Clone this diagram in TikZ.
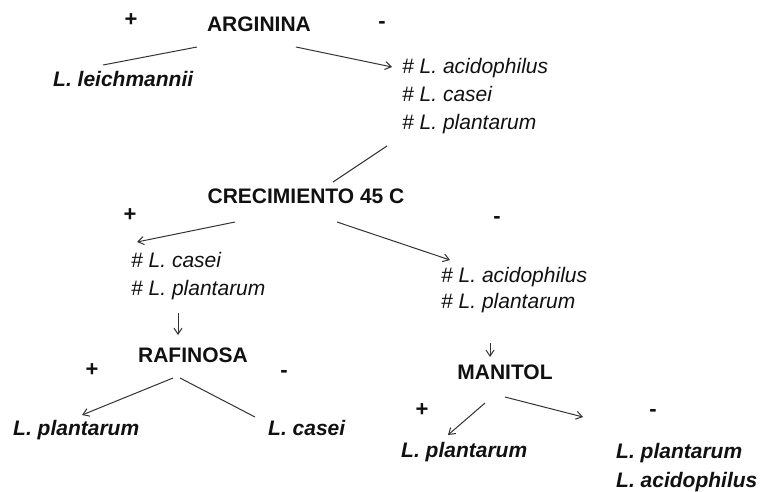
\documentclass[tikz,border=0pt]{standalone}
\usepackage{fontspec}
\setmainfont{Liberation Sans}
\usepackage{tikz}
\usetikzlibrary{arrows.meta, calc}
\definecolor{ink}{HTML}{111111}
\definecolor{wire}{HTML}{333333}

\begin{document}
\begin{tikzpicture}[
  x=1pt, y=-1pt,
  test/.style={font=\fontsize{21}{25}\selectfont\bfseries, text=ink, inner sep=1pt, anchor=base},
  sign/.style={font=\fontsize{22}{25}\selectfont\bfseries, text=ink, inner sep=1pt},
  sp/.style={font=\fontsize{21}{25}\selectfont\itshape, text=ink, inner sep=1pt, anchor=base west},
  res/.style={sp, font=\fontsize{21}{25}\selectfont\bfseries\itshape},
  lin/.style={draw=wire, line width=1pt},
  arr/.style={lin, -{Straight Barb[length=6pt, width=8pt]}}
]
\useasboundingbox (0,0) rectangle (760,491);
% first test
\node[sign] (plusA) at (131,20) {+};
\node[test] (arg) at (259,31.5) {ARGININA};
\node[sign] (minusA) at (382,25) {-};
\node[res] (leich) at (52,86) {L. leichmannii};
\node[sp] (a1) at (401,73) {\# L. acidophilus};
\node[sp] (a2) at (401,101) {\# L. casei};
\node[sp] (a3) at (401,129) {\# L. plantarum};
% second test
\node[test] (cre) at (306,203) {CRECIMIENTO 45 C};
\node[sign] (plusB) at (130,215) {+};
\node[sign] (minusB) at (497,220) {-};
\node[sp] (b1) at (130,267) {\# L. casei};
\node[sp] (b2) at (130,295) {\# L. plantarum};
\node[sp] (c1) at (440,282) {\# L. acidophilus};
\node[sp] (c2) at (440,308) {\# L. plantarum};
% third tests
\node[test] (raf) at (193,362) {RAFINOSA};
\node[sign] (plusC) at (92,370) {+};
\node[sign] (minusC) at (284,374) {-};
\node[res] (rp) at (12,435) {L. plantarum};
\node[res] (rc) at (267,435) {L. casei};
\node[test] (man) at (505,379) {MANITOL};
\node[sign] (plusD) at (422,410) {+};
\node[sign] (minusD) at (653,413) {-};
\node[res] (mp) at (400,457) {L. plantarum};
\node[res] (mn1) at (615,458) {L. plantarum};
\node[res] (mn2) at (615,487) {L. acidophilus};
% connectors
\draw[lin] ($(arg.base)+(-62,15.5)$) -- ($(leich.base west)+(51,-21)$);
\draw[arr] ($(arg.base)+(37,15.5)$) -- ($(a1.base west)+(-9,-6)$);
\draw[lin] ($(a3.base west)+(-14,17)$) -- ($(cre.base)+(27,-21)$);
\draw[arr] ($(cre.base)+(-71,19)$) -- ($(b1.base west)+(7,-25)$);
\draw[arr] ($(cre.base)+(31,19)$) -- ($(c1.base west)+(10,-22)$);
\draw[arr] ($(b2.base west)+(48,18)$) -- ($(raf.base)+(-15,-27)$);
\draw[arr] ($(raf.base)+(-20,16)$) -- ($(rp.base west)+(70,-20)$);
\draw[lin] ($(raf.base)+(-13,16)$) -- ($(rc.base west)+(-12,-18)$);
\draw[arr] ($(c2.base west)+(50,35)$) -- ($(man.base)+(-15,-22)$);
\draw[arr] ($(man.base)+(-20,24)$) -- ($(mp.base west)+(48,-22)$);
\draw[arr] ($(man.base)+(0,18)$) -- ($(mn1.base west)+(-32,-41)$);
\end{tikzpicture}
\end{document}
